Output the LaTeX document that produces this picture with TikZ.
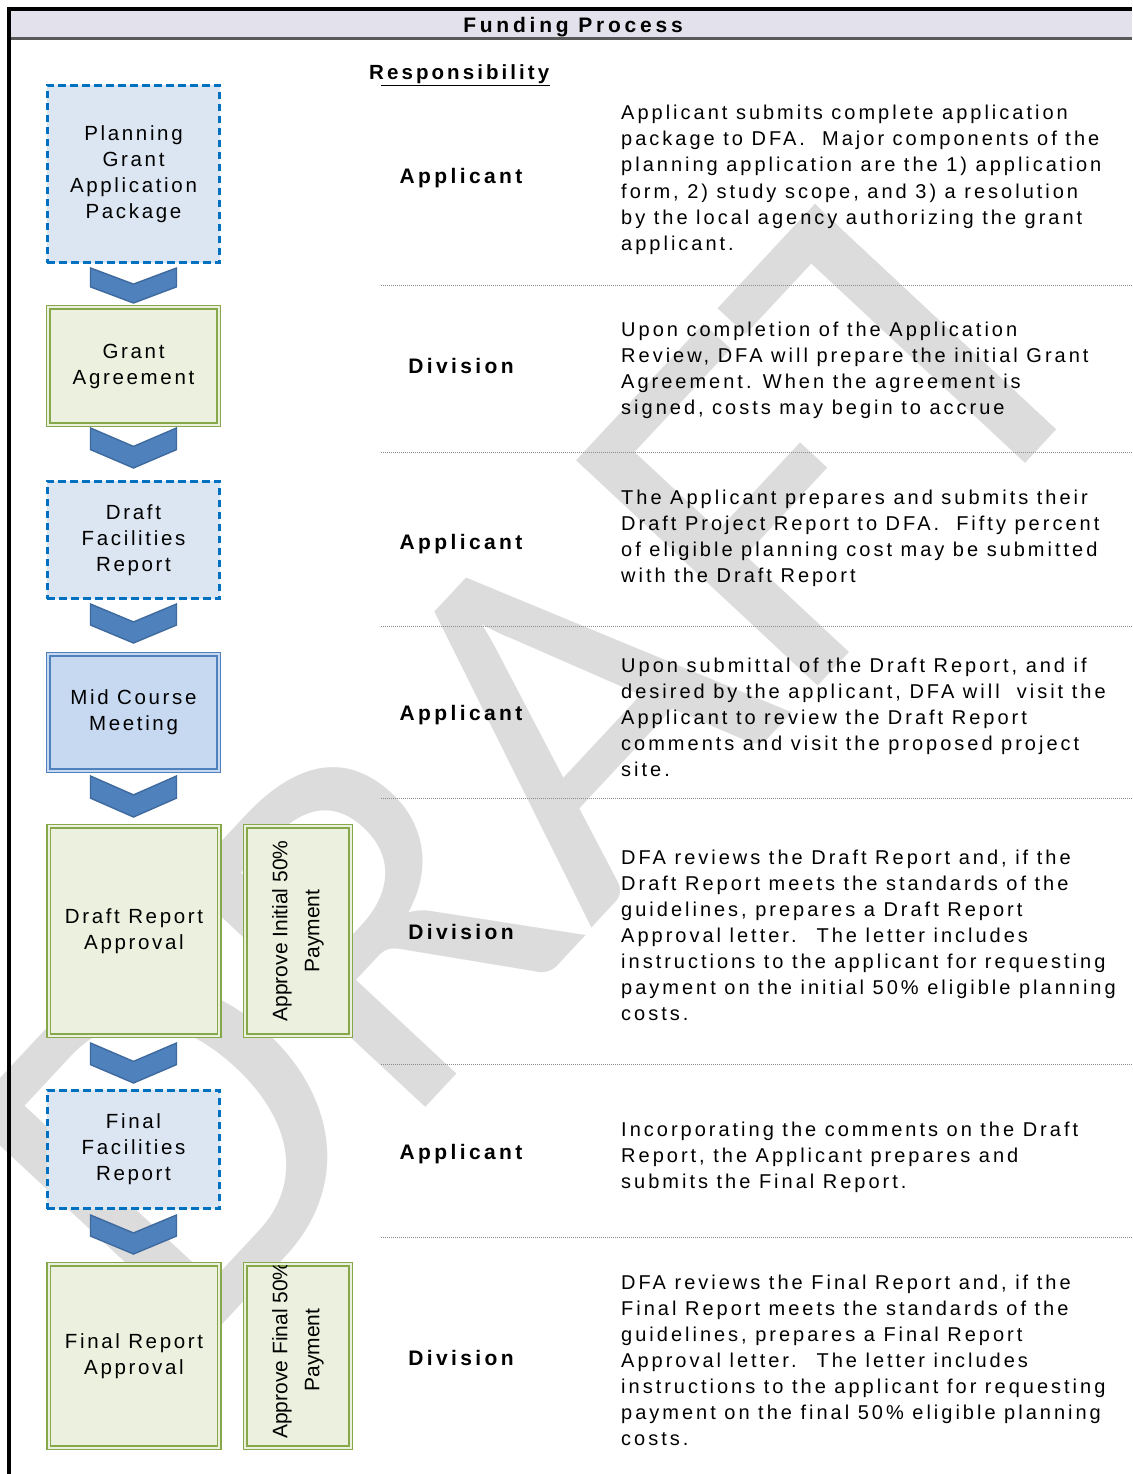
\documentclass[tikz,border=0pt]{standalone}
\usepackage{fontspec}
\setmainfont{Liberation Sans}
\newfontfamily\spcfont[LetterSpace=13]{Liberation Sans}
\newfontfamily\dscfont[LetterSpace=15]{Liberation Sans}
\newfontfamily\lblfam[LetterSpace=16]{Liberation Sans}
\newfontfamily\ttlfam[LetterSpace=18]{Liberation Sans}
\newfontfamily\wmfont{Carlito}
\definecolor{titlebg}{HTML}{E3E1EC}
\definecolor{titleline}{HTML}{5A5A5A}
\definecolor{gfill}{HTML}{EBF1DE}
\definecolor{gline}{HTML}{86A84A}
\definecolor{bfill}{HTML}{DCE6F2}
\definecolor{bdash}{HTML}{0070C0}
\definecolor{mfill}{HTML}{C6D9F1}
\definecolor{mline}{HTML}{4F81BD}
\definecolor{chevfill}{HTML}{4F81BD}
\definecolor{chevline}{HTML}{3F6A9E}
\definecolor{wmgray}{HTML}{DCDCDC}
\definecolor{sepgray}{HTML}{8C8C8C}
\newcommand\boxfont{\spcfont\fontsize{20.5}{26}\selectfont}
\newcommand\descfont{\dscfont\fontsize{20}{26}\selectfont}
\newcommand\lblfont{\lblfam\bfseries\fontsize{21}{24}\selectfont}
\newcommand\vfont{\rmfamily\fontsize{21}{32}\selectfont}
\newcommand\chevron[2]{%
  \filldraw[chevshape] (133.5-43,#1) -- (133.5,{#1+0.46*(#2-#1)}) -- (133.5+43,#1)
    -- (133.5+43,{#1+0.54*(#2-#1)}) -- (133.5,#2) -- (133.5-43,{#1+0.54*(#2-#1)}) -- cycle;}
\newcommand\descblock[3]{%
  \foreach \t [count=\i from 0] in {#3} \node[desc] (#1-\i) at (621,{#2+26*\i}) {\t};}
\tikzset{
  gbox/.style={draw=gline, double=gfill, double distance=2.4pt, line width=1.1pt,
    fill=gfill, align=center, font=\boxfont, inner sep=0, minimum width=170.5pt},
  mbox/.style={draw=mline, double=mfill, double distance=2.4pt, line width=1.1pt,
    fill=mfill, align=center, font=\boxfont, inner sep=0, minimum width=170.5pt},
  dbox/.style={draw=bdash, dash pattern=on 7.5pt off 4.5pt, line width=2.6pt,
    fill=bfill, align=center, font=\boxfont, inner sep=0, minimum width=172.5pt},
  chevshape/.style={fill=chevfill, draw=chevline, line width=1.4pt, line join=miter},
  desc/.style={anchor=base west, inner sep=0, font=\descfont},
  lbl/.style={anchor=base, inner sep=0, font=\lblfont},
  sepline/.style={draw=sepgray, line width=0.9pt, dash pattern=on 1pt off 1pt},
  vtext/.style={rotate=90, align=center, font=\vfont, inner sep=0},
}
\begin{document}
\begin{tikzpicture}[x=1pt, y=-1pt]
\useasboundingbox (0,0) rectangle (1132,1474);
\clip (0,0) rectangle (1132,1474);
\fill[white] (0,0) rectangle (1132,1474);
% watermark
\begin{scope}[shift={(184,1366)}, rotate=47]
  \clip (-2000,-2000) rectangle (1280,2000);
  \node[anchor=base west, rotate=47, inner sep=0, text=wmgray,
    font=\wmfont\fontsize{515}{515}\selectfont] (wm) at (0,0) {DRAFT};
\end{scope}
% frame and title band
\fill[titlebg] (11,11.5) rectangle (1132,37.5);
\draw[titleline, line width=2.5pt] (11,38.5) -- (1132,38.5);
\draw[black, line width=4pt] (7.5,9.5) -- (1132,9.5);
\draw[black, line width=4pt] (9.3,7.5) -- (9.3,1474);
\node[inner sep=0, anchor=base, font=\ttlfam\bfseries\fontsize{21}{24}\selectfont] (title) at (573,33) {Funding Process};
% responsibility header
\node[inner sep=0, anchor=base west, font=\dscfont\bfseries\fontsize{20.5}{24}\selectfont] (resp) at (369,80) {Responsibility};
\draw[line width=1.4pt] (381,85.5) -- (550,85.5);
% separators
\foreach \y in {285,452,626,798,1064,1237} \draw[sepline] (381,\y) -- (1132,\y);
% left column boxes
\node[dbox, minimum height=177.5pt] (pg) at (133.5,174) {Planning\\Grant\\Application\\Package};
\node[gbox, minimum height=117.5pt] (ga) at (133.5,366) {Grant\\Agreement};
\node[dbox, minimum height=117.5pt] (dfr) at (133.5,540) {Draft\\Facilities\\Report};
\node[mbox, minimum height=116.5pt] (mcm) at (133.5,712.5) {Mid Course\\Meeting};
\node[gbox, minimum height=209.5pt] (dra) at (134,931) {Draft Report\\Approval};
\node[gbox, minimum height=209.5pt, minimum width=105.5pt] (aip) at (298,931) {};
\node[vtext] (aipt) at (aip.center) {Approve Initial 50\%\\Payment};
\node[dbox, minimum height=118.5pt] (ffr) at (133.5,1149.5) {Final\\Facilities\\Report};
\node[gbox, minimum height=183.5pt] (fra) at (134,1356) {Final Report\\Approval};
\node[gbox, minimum height=183.5pt, minimum width=105.5pt] (afp) at (298,1356) {};
\begin{scope}
  \clip (246.5,1265.5) rectangle (349.5,1446.5);
  \node[vtext] (afpt) at (298,1350) {Approve Final 50\%\\Payment};
\end{scope}
% chevrons
\chevron{268}{303}
\chevron{428}{468}
\chevron{604}{643}
\chevron{776}{817}
\chevron{1043}{1083}
\chevron{1215}{1254}
% responsibility labels
\node[lbl] (r1) at (461,183) {Applicant};
\node[lbl] (r2) at (461,373) {Division};
\node[lbl] (r3) at (461,549) {Applicant};
\node[lbl] (r4) at (461,720) {Applicant};
\node[lbl] (r5) at (461,939) {Division};
\node[lbl] (r6) at (461,1159) {Applicant};
\node[lbl] (r7) at (461,1365) {Division};
% descriptions
\descblock{da}{120}{{Applicant submits complete application},{package to DFA.~ Major components of the},{planning application are the 1) application},{form, 2) study scope, and 3) a resolution},{by the local agency authorizing the grant},{applicant.}}
\descblock{db}{336}{{Upon completion of the Application},{Review, DFA will prepare the initial Grant},{Agreement. When the agreement is},{signed, costs may begin to accrue}}
\descblock{dc}{504}{{The Applicant prepares and submits their},{Draft Project Report to DFA.~ Fifty percent},{of eligible planning cost may be submitted},{with the Draft Report}}
\descblock{dd}{672}{{Upon submittal of the Draft Report, and if},{desired by the applicant, DFA will~ visit the},{Applicant to review the Draft Report},{comments and visit the proposed project},{site.}}
\descblock{de}{864}{{DFA reviews the Draft Report and, if the},{Draft Report meets the standards of the},{guidelines, prepares a Draft Report},{Approval letter.~ The letter includes},{instructions to the applicant for requesting},{payment on the initial 50\% eligible planning},{costs.}}
\descblock{df}{1136}{{Incorporating the comments on the Draft},{Report, the Applicant prepares and},{submits the Final Report.}}
\descblock{dg}{1289}{{DFA reviews the Final Report and, if the},{Final Report meets the standards of the},{guidelines, prepares a Final Report},{Approval letter.~ The letter includes},{instructions to the applicant for requesting},{payment on the final 50\% eligible planning},{costs.}}
\end{tikzpicture}
\end{document}
